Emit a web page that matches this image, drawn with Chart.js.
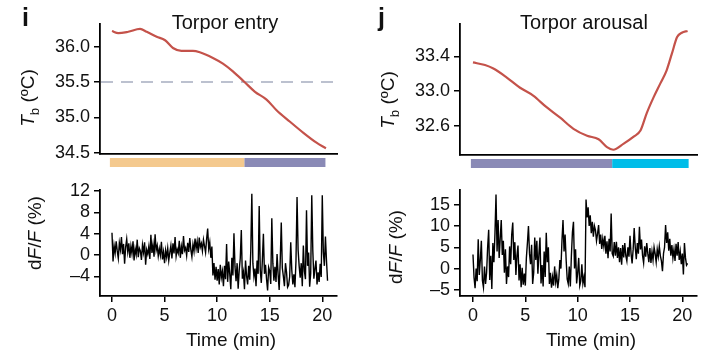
<!DOCTYPE html>
<html>
<head>
<meta charset="utf-8">
<script src="https://cdn.jsdelivr.net/npm/chart.js@4.4.0/dist/chart.umd.min.js"></script>
<style>
  body { margin: 0; background: #fff; }
  #fig { position: relative; width: 723px; height: 353px; font-family: 'Liberation Sans', Arial, sans-serif; color: #111; }
  .panel { position: absolute; }
  .lbl { position: absolute; white-space: nowrap; font-size: 19px; transform: translate(-50%, -50%); }
  .rot { transform: translate(-50%, -50%) rotate(-90deg); }
  .tag { position: absolute; font-weight: bold; font-size: 25px; }
  .sub { font-size: 70%; position: relative; top: 0.35em; }
</style>
</head>
<body>
<div id="fig">
  <canvas id="tbEntryChart" class="panel" width="345" height="175" style="left:0;top:0"></canvas>
  <canvas id="dfEntryChart" class="panel" width="345" height="178" style="left:0;top:175px"></canvas>
  <canvas id="tbArousalChart" class="panel" width="345" height="175" style="left:360px;top:0"></canvas>
  <canvas id="dfArousalChart" class="panel" width="345" height="178" style="left:360px;top:175px"></canvas>

  <div class="tag" style="left:22px;top:3px">i</div>
  <div class="tag" style="left:378px;top:3px">j</div>
  <div class="lbl" style="left:225px;top:22px;font-size:20px">Torpor entry</div>
  <div class="lbl" style="left:584px;top:22px;font-size:20px">Torpor arousal</div>
  <div class="lbl rot" style="left:28px;top:98px"><i>T</i><span class="sub">b</span> (ºC)</div>
  <div class="lbl rot" style="left:388px;top:100px"><i>T</i><span class="sub">b</span> (ºC)</div>
  <div class="lbl rot" style="left:35px;top:233px">d<i>F</i>/<i>F</i> (%)</div>
  <div class="lbl rot" style="left:396px;top:247px">d<i>F</i>/<i>F</i> (%)</div>
  <div class="lbl" style="left:231px;top:340px">Time (min)</div>
  <div class="lbl" style="left:591px;top:340px">Time (min)</div>
</div>
<script>
// body temperature, torpor entry (min, degC)
const tbEntryTime = [0, 0.6, 1.55, 2.67, 3.3, 4.25, 5.05, 5.8, 6.6, 7.7, 8.35, 9.6, 10.55, 11.5, 12.6, 13.6, 14.7, 15.65, 16.9, 18.2, 19.45, 20.35];
const tbEntry = [36.22, 36.19, 36.21, 36.25, 36.21, 36.14, 36.09, 35.98, 35.94, 35.94, 35.92, 35.84, 35.76, 35.65, 35.50, 35.36, 35.25, 35.10, 34.94, 34.78, 34.64, 34.56];

// body temperature, torpor arousal
const tbArousalTime = [0, 1.15, 1.95, 3.2, 4.5, 5.75, 7.0, 8.3, 9.6, 10.9, 12.0, 12.8, 13.4, 14.4, 15.35, 16.0, 16.6, 17.25, 17.9, 18.5, 19.0, 19.5, 19.95, 20.5];
const tbArousal = [33.33, 33.30, 33.26, 33.16, 33.04, 32.95, 32.82, 32.70, 32.57, 32.49, 32.45, 32.36, 32.33, 32.40, 32.48, 32.55, 32.75, 32.93, 33.09, 33.24, 33.43, 33.62, 33.67, 33.69];

// dF/F traces, one sample every 0.1 min
const sampleStep = 0.1;
const dfEntry = [
  4.2, -1.2, 1.8, 0.4, 2.6, 0.8, -0.6, 2.3, 1.0, 3.4,
  0.2, 2.1, -1.6, 1.5, 3.0, 0.6, 2.2, -0.5, 1.7, 0.3,
  2.6, -1.0, 1.2, 0.1, 2.9, -0.4, 1.3, 0.8, -0.9, 1.9,
  0.5, 2.4, -1.8, 1.0, 0.2, 1.6, -0.7, 3.8, 0.4, 2.0,
  -0.3, 3.9, 0.9, 1.8, -0.2, 1.2, 0.0, 2.5, -0.8, 0.6,
  -1.5, 0.9, -0.4, 1.3, -1.0, 0.5, 1.8, -0.6, 2.2, 0.3,
  3.4, -0.2, 1.1, 0.4, 2.7, -0.5, 1.6, 0.2, 3.6, 0.9,
  1.4, -0.1, 2.3, 0.6, 3.2, 1.0, -0.3, 2.0, 0.7, 3.1,
  1.2, 2.6, 0.4, 3.3, 1.5, 2.2, 0.8, 2.9, 1.7, 0.5,
  3.0, 5.0, 1.2, 2.4, -0.5, 1.6, -3.8, -1.5, -4.6, -2.2,
  -4.8, -2.6, -5.5, -1.8, -4.2, -3.0, -5.8, -2.0, -4.5, 2.1,
  -5.0, -1.2, -3.5, -6.4, -0.5, -3.8, 4.1, -2.2, -4.9, -1.5,
  -6.3, -2.8, -0.6, 4.7, -4.4, -3.2, -6.4, -1.0, -3.9, -5.5,
  -2.0, -4.6, 0.8, 11.5, -1.5, -4.0, -2.5, -5.8, -1.0, -3.5,
  9.2, -2.8, -5.2, -1.0, 4.0, -3.5, -1.8, -4.5, -6.6, -2.3,
  -3.0, -5.4, 6.9, -1.5, -4.8, -2.2, -5.0, 0.2, -3.6, -6.5,
  -1.2, 6.1, -2.4, -4.0, -5.8, -1.5, -3.2, -6.0, -5.6, -4.0,
  2.4, -2.8, -5.5, -3.6, -6.0, -1.0, 10.9, 1.0, -2.0, -4.2,
  -1.5, -5.8, 1.8, -3.0, -4.5, 8.4, -2.0, 0.5, -5.9, -3.4,
  11.2, 0.8, -4.4, -2.6, -1.0, -5.5, -3.2, -5.0, -1.6, -4.1,
  11.2, 0.6, -2.0, 3.5, -1.0, -4.8
];
const dfArousal = [
  3.3, -2.1, -4.6, 0.0, -3.0, 6.9, -1.5, 2.0, 6.5, -2.8,
  -4.4, 0.5, -3.6, -1.0, 5.0, 9.1, -2.7, 3.0, -4.8, 6.0,
  1.5, 8.2, 17.4, 4.0, 11.4, 2.5, 7.0, 11.4, 3.2, 6.5,
  -1.0, 4.5, -3.6, 0.5, -2.0, 5.2, 1.0, 8.0, 10.8, 2.0,
  6.2, -1.5, 3.0, 5.4, -2.8, 1.0, -4.4, 0.2, -3.8, -1.2,
  -4.0, 2.5, 6.0, 10.0, 3.5, 1.0, 5.6, -3.6, -1.0, 7.3,
  2.0, 6.5, -1.2, 3.5, 7.3, -3.5, 0.8, -4.2, 4.0, -2.0,
  8.4, 1.5, 5.0, -3.6, -1.0, -4.5, -2.0, -4.0, 0.5, -3.2,
  -1.5, -4.6, -2.5, 2.0, 0.0, 6.5, 11.4, 4.0, 8.0, 2.0,
  -2.5, -3.6, 0.5, -4.2, 3.0, 8.5, 11.0, 0.0, 4.5, -3.5,
  -1.0, 2.5, -4.0, -2.9, 1.0, -3.5, -2.0, -4.4, 16.2, 12.0,
  14.4, 10.0, 12.5, 8.3, 11.0, 7.5, 10.0, 9.0, 6.5, 8.2,
  10.2, 5.8, 8.0, 4.6, 7.0, 5.2, 7.7, 3.5, 6.4, 2.4,
  7.0, 4.0, 12.9, 3.5, 2.9, 6.2, 3.0, 6.3, 2.5, 5.0,
  1.5, 4.8, 0.9, 5.5, 2.6, 6.0, 3.0, 1.8, 5.0, 2.8,
  7.7, 3.5, 1.2, 4.5, 9.5, 5.0, 2.2, 6.0, 3.5, 9.8,
  4.5, 6.8, 3.0, 1.3, 5.2, 2.8, 6.0, 3.5, 1.5, 4.8,
  1.3, 4.0, 2.0, 5.0, 3.5, 1.5, 4.5, 2.8, 5.2, 3.0,
  1.8, -0.6, 3.5, 5.0, 10.2, 6.0, 8.5, 4.2, 7.0, 3.0,
  5.5, 2.5, 4.5, 1.8, 5.8, 3.0, 6.2, 2.0, 4.0, 1.0,
  3.5, -1.4, 6.0, 2.5, 0.8, 1.2
];

// state bars under the Tb panels (min)
const entryPhaseStart = [-0.2, 12.6];
const entryPhaseEnd = [12.6, 20.3];
const arousalPhaseStart = [-0.2, 13.3];
const arousalPhaseEnd = [13.3, 20.6];
const entryThreshold = 35.5;

// tick labels
const timeTicks = [0, 5, 10, 15, 20];
const tbEntryTicks = [34.5, 35.0, 35.5, 36.0];
const tbArousalTicks = [32.6, 33.0, 33.4];
const dfEntryTicks = [-4, 0, 4, 8, 12];
const dfArousalTicks = [-5, 0, 5, 10, 15];

Chart.defaults.font.family = "'Liberation Sans', Arial, sans-serif";
Chart.defaults.color = '#111';

const phaseBar = {
    id: 'phaseBar',
    afterDraw(chart, args, opts) {
        if (!opts.starts) return;
        const { ctx, chartArea, scales: { x } } = chart;
        ctx.save();
        opts.starts.forEach((s, i) => {
            const x0 = x.getPixelForValue(s);
            const x1 = x.getPixelForValue(opts.ends[i]);
            ctx.fillStyle = opts.colors[i];
            ctx.fillRect(x0, chartArea.bottom + 4, x1 - x0, 9);
        });
        ctx.restore();
    }
};

const hLine = {
    id: 'hLine',
    beforeDatasetsDraw(chart, args, opts) {
        if (opts.value === undefined) return;
        const { ctx, chartArea, scales: { y } } = chart;
        const py = y.getPixelForValue(opts.value);
        ctx.save();
        ctx.strokeStyle = '#bcc1cf';
        ctx.lineWidth = 2;
        ctx.setLineDash([12, 8]);
        ctx.beginPath();
        ctx.moveTo(chartArea.left + 1, py);
        ctx.lineTo(chartArea.right, py);
        ctx.stroke();
        ctx.restore();
    }
};

const fmtDec = v => v.toFixed(1);
const fmtInt = v => (v < 0 ? '\u2013' + Math.abs(v) : String(v));

function axisStyle() {
    return {
        grid: { drawOnChartArea: false, drawTicks: true, tickLength: 6, color: '#000', lineWidth: 1.5 },
        border: { display: true, color: '#000', width: 1.8 }
    };
}

function yAxis(min, max, ticks, fmt) {
    return {
        type: 'linear', min, max,
        afterFit: s => { s.width = 100; },
        afterBuildTicks: s => { s.ticks = ticks.map(v => ({ value: v })); },
        ...axisStyle(),
        ticks: { font: { size: 18 }, color: '#111', padding: 4, callback: fmt }
    };
}

function xAxis(min, max, height, showTicks) {
    const ax = {
        type: 'linear', min, max,
        afterFit: s => { s.height = height; },
        afterBuildTicks: s => { s.ticks = timeTicks.map(v => ({ value: v })); },
        ...axisStyle(),
        ticks: { display: showTicks, font: { size: 18 }, color: '#111', padding: 3, maxRotation: 0 }
    };
    if (!showTicks) ax.grid = { display: false };
    return ax;
}

function makeChart(id, points, color, width, smooth, scales, pluginOpts, padTop) {
    return new Chart(document.getElementById(id), {
        type: 'line',
        data: {
            datasets: [{
                data: points,
                borderColor: color,
                borderWidth: width,
                pointRadius: 0,
                fill: false,
                cubicInterpolationMode: smooth ? 'monotone' : 'default',
                tension: 0
            }]
        },
        plugins: [phaseBar, hLine],
        options: {
            responsive: false,
            animation: false,
            devicePixelRatio: 1,
            parsing: false,
            layout: { padding: { top: padTop, right: 8, left: 0, bottom: 0 } },
            scales,
            plugins: Object.assign({ legend: { display: false }, tooltip: { enabled: false } }, pluginOpts)
        }
    });
}

const zip = (xs, ys) => ys.map((y, i) => ({ x: xs[i], y }));
const sampleTimes = arr => arr.map((_, i) => +(i * sampleStep).toFixed(1));

makeChart('tbEntryChart', zip(tbEntryTime, tbEntry), '#c4524a', 2.2, true,
    { x: xAxis(-1.14, 21.4, 21, false), y: yAxis(34.48, 36.32, tbEntryTicks, fmtDec) },
    { phaseBar: { starts: entryPhaseStart, ends: entryPhaseEnd, colors: ['#f4c98e', '#8a8ab6'] },
      hLine: { value: entryThreshold } }, 24);

makeChart('tbArousalChart', zip(tbArousalTime, tbArousal), '#c4524a', 2.2, true,
    { x: xAxis(-1.24, 21.4, 20, false), y: yAxis(32.27, 33.77, tbArousalTicks, fmtDec) },
    { phaseBar: { starts: arousalPhaseStart, ends: arousalPhaseEnd, colors: ['#8a8ab6', '#00bde9'] } }, 24);

makeChart('dfEntryChart', zip(sampleTimes(dfEntry), dfEntry), '#000', 1.4, false,
    { x: xAxis(-1.14, 21.4, 57, true), y: yAxis(-7.65, 12.24, dfEntryTicks, fmtInt) }, {}, 10);

makeChart('dfArousalChart', zip(sampleTimes(dfArousal), dfArousal), '#000', 1.4, false,
    { x: xAxis(-1.24, 21.4, 57, true), y: yAxis(-6.45, 18.5, dfArousalTicks, fmtInt) }, {}, 10);
</script>
</body>
</html>
